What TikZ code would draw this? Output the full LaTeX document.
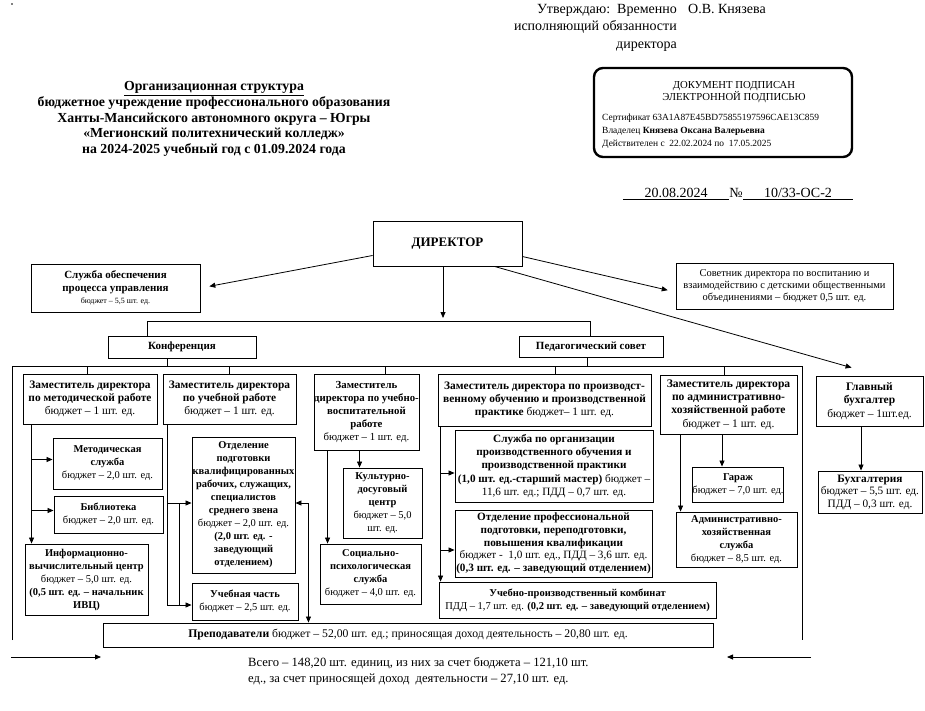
\documentclass[tikz,border=0pt]{standalone}
\usepackage{fontspec}
\setmainfont{Liberation Serif}
\usetikzlibrary{arrows.meta,calc}
\begin{document}
\begin{tikzpicture}[x=1pt,y=-1pt,
  box/.style={draw, line width=0.9pt, align=center, inner sep=0pt, font=\fontsize{10.5}{13}\selectfont},
  depbox/.style={box, font=\fontsize{11.4}{13.2}\selectfont},
  arr/.style={line width=0.8pt, -{Triangle[length=6pt,width=5pt]}},
  arrb/.style={line width=0.8pt, {Triangle[length=6pt,width=5pt]}-{Triangle[length=6pt,width=5pt]}},
  ln/.style={line width=0.8pt},
]
\fill[white] (0,0) rectangle (925,711);
\useasboundingbox (0,0) rectangle (925,711);
\fill (12,4) circle (0.9pt);

% header
\node[font=\fontsize{14}{17.5}\selectfont, align=right, anchor=east, inner sep=0pt] (approve) at (677,27.5) {Утверждаю:\ \ Временно\\исполняющий обязанности\\директора};
\node[font=\fontsize{14}{17}\selectfont, anchor=west, inner sep=0pt] (signer) at (688,9) {О.В. Князева};

\node[font=\fontsize{13.8}{15.8}\selectfont\bfseries, align=center] (title) at (214,119) {\underline{Организационная структура}\\бюджетное учреждение профессионального образования\\Ханты-Мансийского автономного округа – Югры\\«Мегионский политехнический колледж»\\на 2024-2025 учебный год с 01.09.2024 года};

\node[draw, line width=2.4pt, rounded corners=9pt, minimum width=258pt, minimum height=89pt] (stamp) at (723,112.5) {};
\node[font=\fontsize{10.7}{12.5}\selectfont, align=center] (stampA) at (734,92) {ДОКУМЕНТ ПОДПИСАН\\ЭЛЕКТРОННОЙ ПОДПИСЬЮ};
\node[font=\fontsize{9.45}{13}\selectfont, align=left, anchor=west, inner sep=0pt] (stampB) at (602,131.5) {Сертификат 63A1A87E45BD75855197596CAE13C859\\Владелец \textbf{Князева Оксана Валерьевна}\\Действителен с\ \ 22.02.2024 по\ \ 17.05.2025};

\node[font=\fontsize{14}{16}\selectfont, minimum width=106pt, minimum height=12pt, inner sep=0pt] (date) at (676,193) {20.08.2024};
\draw[line width=0.6pt] (date.south west) -- (date.south east);
\node[font=\fontsize{14}{16}\selectfont, inner sep=0pt] (numsign) at (736,193) {№};
\node[font=\fontsize{14}{16}\selectfont, minimum width=110pt, minimum height=12pt, inner sep=0pt] (docnum) at (798,193) {10/33-ОС-2};
\draw[line width=0.6pt] (docnum.south west) -- (docnum.south east);

% top level
\node[box, minimum width=149pt, minimum height=45pt, font=\fontsize{13}{15}\selectfont\bfseries] (dir) at (447.5,243.5) {\raisebox{3pt}{ДИРЕКТОР}};
\node[box, minimum width=169pt, minimum height=48pt, font=\fontsize{11}{12.5}\selectfont] (sluzhba) at (115.5,288) {\textbf{Служба обеспечения}\\\textbf{процесса управления}\\{\fontsize{8}{11}\selectfont бюджет – 5,5 шт. ед.}};
\node[box, minimum width=217pt, minimum height=46pt, font=\fontsize{10.5}{12}\selectfont] (sovet) at (784.5,286) {Советник директора по воспитанию и\\взаимодействию с детскими общественными\\объединениями – бюджет 0,5 шт. ед.};
\node[box, minimum width=148pt, minimum height=22pt, font=\fontsize{11}{12}\selectfont\bfseries] (konf) at (182,347) {Конференция};
\node[box, minimum width=144pt, minimum height=21pt, font=\fontsize{11}{12}\selectfont\bfseries] (ped) at (591,346.5) {Педагогический совет};

% deputies
\node[depbox, minimum width=134pt, minimum height=50pt] (zmet) at (90,399) {\textbf{Заместитель директора}\\\textbf{по методической работе}\\бюджет – 1 шт. ед.};
\node[depbox, minimum width=133pt, minimum height=50pt] (zuch) at (229.5,399) {\textbf{Заместитель директора}\\\textbf{по учебной работе}\\бюджет – 1 шт. ед.};
\node[depbox, minimum width=105pt, minimum height=76pt, font=\fontsize{10.8}{13}\selectfont] (zuvr) at (366.5,412) {\textbf{Заместитель}\\\textbf{директора по учебно-}\\\textbf{воспитательной}\\\textbf{работе}\\бюджет – 1 шт. ед.};
\node[depbox, minimum width=213pt, minimum height=52pt] (zpo) at (544.5,400) {\textbf{Заместитель директора по производст-}\\\textbf{венному обучению и производственной}\\\textbf{практике} бюджет– 1 шт. ед.};
\node[depbox, minimum width=137pt, minimum height=59pt, font=\fontsize{11.6}{13.2}\selectfont] (zahr) at (728.5,404.5) {\textbf{Заместитель директора}\\\textbf{по административно-}\\\textbf{хозяйственной работе}\\бюджет – 1 шт. ед.};
\node[depbox, minimum width=107pt, minimum height=50pt, font=\fontsize{11.5}{13.2}\selectfont] (glbuh) at (869.5,401) {\textbf{Главный}\\\textbf{бухгалтер}\\бюджет – 1шт.ед.};
\node[depbox, minimum width=104pt, minimum height=42pt, font=\fontsize{11.3}{12.5}\selectfont] (buh) at (870,492) {\textbf{Бухгалтерия}\\бюджет – 5,5 шт. ед.\\ПДД – 0,3 шт. ед.};

% sub units
\node[box, minimum width=109pt, minimum height=51pt] (metsl) at (107.5,463.5) {\textbf{Методическая}\\\textbf{служба}\\бюджет – 2,0 шт. ед.};
\node[box, minimum width=109pt, minimum height=37pt] (bibl) at (108.5,514.5) {\textbf{Библиотека}\\бюджет – 2,0 шт. ед.};
\node[box, minimum width=123pt, minimum height=71pt] (ivc) at (86.5,579.5) {\textbf{Информационно-}\\\textbf{вычислительный центр}\\бюджет – 5,0 шт. ед.\\\textbf{(0,5 шт. ед. – начальник}\\\textbf{ИВЦ)}};
\node[box, minimum width=103pt, minimum height=136pt] (otdkv) at (243.5,505) {\textbf{Отделение}\\\textbf{подготовки}\\\makebox[95pt]{\textbf{квалифицированных}}\\\textbf{рабочих, служащих,}\\\textbf{специалистов}\\\textbf{среднего звена}\\бюджет – 2,0 шт. ед.\\\textbf{(2,0 шт. ед. -}\\\textbf{заведующий}\\\textbf{отделением)}};
\node[box, minimum width=106pt, minimum height=37pt] (uchch) at (245,601.5) {\textbf{Учебная часть}\\бюджет – 2,5 шт. ед.};
\node[box, minimum width=79pt, minimum height=70pt] (kult) at (382.5,503) {\textbf{Культурно-}\\\textbf{досуговый}\\\textbf{центр}\\бюджет – 5,0\\шт. ед.};
\node[box, minimum width=101pt, minimum height=60pt] (socps) at (370.5,574) {\textbf{Социально-}\\\textbf{психологическая}\\\textbf{служба}\\бюджет – 4,0 шт. ед.};
\node[box, minimum width=198pt, minimum height=72pt, font=\fontsize{11.2}{13.2}\selectfont] (slorg) at (554,466) {\textbf{Служба по организации}\\\textbf{производственного обучения и}\\\textbf{производственной практики}\\\textbf{(1,0 шт. ед.-старший мастер)} бюджет –\\11,6 шт. ед.; ПДД – 0,7 шт. ед.};
\node[box, minimum width=197pt, minimum height=67pt, font=\fontsize{11.2}{12.8}\selectfont] (otdprof) at (553.5,543.5) {\textbf{Отделение профессиональной}\\\textbf{подготовки, переподготовки,}\\\textbf{повышения квалификации}\\бюджет -\ \ 1,0 шт. ед., ПДД – 3,6 шт. ед.\\\textbf{(0,3 шт. ед. – заведующий отделением)}};
\node[box, minimum width=277pt, minimum height=36pt] (upk) at (577.5,600) {\textbf{Учебно-производственный комбинат}\\ПДД – 1,7 шт. ед. \textbf{(0,2 шт. ед. – заведующий отделением)}};
\node[box, minimum width=90pt, minimum height=35pt] (garage) at (738,484.5) {\textbf{Гараж}\\бюджет – 7,0 шт. ед.};
\node[box, minimum width=121pt, minimum height=55pt] (admin) at (736.5,539.5) {\textbf{Административно-}\\\textbf{хозяйственная}\\\textbf{служба}\\бюджет – 8,5 шт. ед.};
\node[box, minimum width=610pt, minimum height=24pt, font=\fontsize{11.7}{12}\selectfont] (prep) at (408,635) {\textbf{Преподаватели} бюджет – 52,00 шт. ед.; приносящая доход деятельность – 20,80 шт. ед.};

\node[font=\fontsize{12.6}{16}\selectfont, align=left, anchor=west, inner sep=0pt] (total) at (248,671) {Всего – 148,20 шт. единиц, из них за счет бюджета – 121,10 шт.\\ед., за счет приносящей доход\ \ деятельности – 27,10 шт. ед.};

% connectors from director
\draw[arr, shorten >=9pt] ($(dir.west)+(0,12)$) -- (sluzhba.east);
\draw[arr, shorten >=8pt] ($(dir.east)+(0,13)$) -- ($(sovet.west)+(0,6)$);
\draw[arr, shorten >=29pt] ($(dir.south west)+(122,0)$) -- ($(glbuh.north)+(10,0)$);
\coordinate (busL) at (147,321);
\coordinate (busR) at (590,321);
\coordinate (dirdown) at ($(dir.south)+(-4.5,0)$);
\draw[arr, shorten >=3pt] (dirdown) -- (dirdown |- busL);
\draw[ln] (busL) -- (busR);
\draw[ln] (busL) -- (busL |- konf.north);
\draw[ln] (busR) -- (busR |- ped.north);

% frame
\coordinate (fTL) at (12,366);
\coordinate (fTR) at (802,366);
\coordinate (fBL) at (12,640);
\coordinate (fBR) at (802,640);
\draw[ln] (fBL) -- (fTL) -- (fTR) -- (fBR);
\coordinate (kd) at ($(konf.south west)+(60,0)$);
\draw[ln] (kd) -- (kd |- fTL);
\coordinate (pd) at ($(ped.south west)+(69,0)$);
\draw[ln] (pd) -- (pd |- fTL);
\coordinate (t1) at ($(zmet.north west)+(65,0)$);
\coordinate (t2) at (zuch.north);
\coordinate (t3) at ($(zuvr.north west)+(72,0)$);
\coordinate (t4) at ($(zpo.north west)+(118,0)$);
\coordinate (t5) at ($(zahr.north west)+(65,0)$);
\foreach \t in {t1,t2,t3,t4,t5} { \draw[ln] (\t) -- (\t |- fTL); }

% methodical column
\coordinate (m0) at ($(zmet.south west)+(9,0)$);
\draw[arr] (m0) -- (m0 |- ivc.north);
\coordinate (mA) at ($(metsl.west)+(0,-4)$);
\draw[arr] (m0 |- mA) -- (mA);
\coordinate (mB) at ($(bibl.west)+(0,-4)$);
\draw[arr] (m0 |- mB) -- (mB);

% study column
\coordinate (u0) at ($(zuch.south west)+(5,0)$);
\coordinate (uA) at ($(otdkv.west)+(0,-2)$);
\coordinate (uB) at ($(uchch.west)+(0,3.5)$);
\draw[arr] (u0) |- (uB);
\draw[arr] (u0 |- uA) -- (uA);
\coordinate (u1) at ($(otdkv.west)+(-12,-2)$);
\draw[ln] (u1) -- (u1 |- uB);
\coordinate (bd) at ($(otdkv.east)+(13,-2)$);
\draw[arrb] (bd -| otdkv.east) -- (bd) -- (bd |- prep.north);

% educational column
\coordinate (k1) at ($(kult.north west)+(17,0)$);
\draw[arr] (k1 |- zuvr.south) -- (k1);
\coordinate (s1) at ($(socps.north west)+(8,0)$);
\draw[arr] (s1 |- zuvr.south) -- (s1);

% production column
\coordinate (p0) at ($(zpo.south west)+(3,0)$);
\draw[arr] (p0) -- (p0 |- upk.north);
\coordinate (pA) at ($(slorg.west)+(0,7)$);
\draw[arr] (p0 |- pA) -- (pA);
\coordinate (pB) at ($(otdprof.west)+(0,6.5)$);
\draw[arr] (p0 |- pB) -- (pB);

% administrative column
\coordinate (g1) at ($(garage.north west)+(30,0)$);
\draw[arr] (g1 |- zahr.south) -- (g1);
\coordinate (a1) at ($(admin.north west)+(5,0)$);
\draw[arr] (a1 |- zahr.south) -- (a1);

% accounting
\coordinate (b1) at ($(glbuh.south)+(-8.5,0)$);
\draw[arr] (b1) -- (b1 |- buh.north);

% bottom arrows
\coordinate (la1) at (11,657);
\coordinate (la2) at (101,657);
\draw[arr] (la1) -- (la2);
\coordinate (ra1) at (811,657);
\coordinate (ra2) at (727,657);
\draw[arr] (ra1) -- (ra2);
\end{tikzpicture}
\end{document}
